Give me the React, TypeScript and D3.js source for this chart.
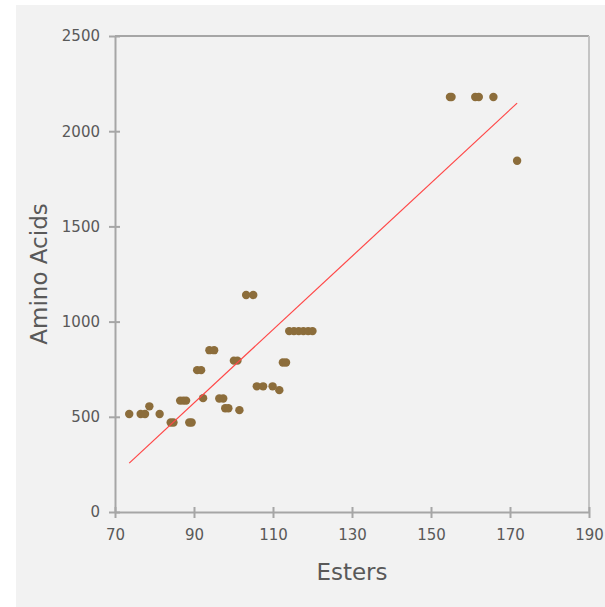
import React, { useRef, useEffect } from "react";
import * as d3 from "d3";

// esters (x) and amino acids (y)
const esters = [
  73.6, 76.5, 77.6, 78.7, 81.3, 84.1, 84.8, 86.5, 87.3, 88.0, 88.8, 89.4,
  90.8, 91.8, 92.3, 93.9, 95.1, 96.4, 97.4, 97.9, 98.7, 100.1, 101.0, 101.5,
  103.2, 105.0, 105.9, 107.5, 109.9, 111.6, 112.5, 113.3, 114.1, 115.3, 116.5,
  117.7, 118.9, 120.0, 154.8, 155.2, 161.2, 162.1, 165.8, 171.8,
];
const aminoAcids = [
  515, 515, 515, 555, 515, 470, 470, 585, 585, 585, 470, 470,
  745, 745, 598, 850, 850, 596, 596, 545, 545, 795, 795, 535,
  1140, 1140, 660, 660, 660, 640, 785, 785, 950, 950, 950,
  950, 950, 950, 2180, 2180, 2180, 2180, 2180, 1845,
];
const xTicks = [70, 90, 110, 130, 150, 170, 190];
const yTicks = [0, 500, 1000, 1500, 2000, 2500];

function ScatterChart() {
  const svgRef = useRef<SVGSVGElement>(null);

  useEffect(() => {
    d3.select(svgRef.current).selectAll("*").remove();
    const width = 605;
    const height = 607;
    const margin = { left: 115, right: 16, top: 36, bottom: 95 };
    const font = "'DejaVu Sans', sans-serif";
    const svg = d3.select(svgRef.current)
      .attr("width", width)
      .attr("height", height);

    // panel background
    svg.append("rect")
      .attr("x", 16).attr("y", 5)
      .attr("width", width - 16).attr("height", height - 5)
      .attr("fill", "#f2f2f2");

    const xScale = d3.scaleLinear()
      .domain([70, 190])
      .range([margin.left, width - margin.right]);
    const yScale = d3.scaleLinear()
      .domain([0, 2500])
      .range([height - margin.bottom, margin.top]);

    const axisColor = "#a6a6a6";
    const textColor = "#595959";
    const x0 = xScale(70), x1 = xScale(190);
    const y0 = yScale(0), y1 = yScale(2500);

    // top and right borders
    svg.append("line")
      .attr("x1", x0).attr("x2", x1).attr("y1", y1).attr("y2", y1)
      .attr("stroke", axisColor).attr("stroke-width", 2);
    svg.append("line")
      .attr("x1", x1).attr("x2", x1).attr("y1", y1).attr("y2", y0)
      .attr("stroke", "#c4c4c4").attr("stroke-width", 2);

    // axes
    const xAxis = d3.axisBottom(xScale)
      .tickValues(xTicks)
      .tickFormat(d3.format("d"))
      .tickSizeInner(6)
      .tickSizeOuter(0)
      .tickPadding(11);
    const yAxis = d3.axisLeft(yScale)
      .tickValues(yTicks)
      .tickFormat(d3.format("d"))
      .tickSizeInner(6)
      .tickSizeOuter(0)
      .tickPadding(9);

    const gx = svg.append("g")
      .attr("transform", `translate(0, ${y0})`)
      .call(xAxis);
    const gy = svg.append("g")
      .attr("transform", `translate(${x0}, 0)`)
      .call(yAxis);

    [gx, gy].forEach((g) => {
      g.select(".domain").attr("stroke", axisColor).attr("stroke-width", 2);
      g.selectAll(".tick line").attr("stroke", axisColor).attr("stroke-width", 2);
      g.selectAll(".tick text")
        .attr("fill", textColor)
        .style("font-family", font)
        .style("font-size", "15px");
    });
    // ticks cross the axis
    gx.selectAll(".tick line").attr("y1", -5);
    gy.selectAll(".tick line").attr("x1", 5);

    // axis titles
    svg.append("text")
      .attr("x", (x0 + x1) / 2)
      .attr("y", 580)
      .attr("text-anchor", "middle")
      .attr("fill", textColor)
      .style("font-family", font)
      .style("font-size", "23px")
      .text("Esters");
    svg.append("text")
      .attr("transform", `translate(47, ${(y0 + y1) / 2}) rotate(-90)`)
      .attr("text-anchor", "middle")
      .attr("fill", textColor)
      .style("font-family", font)
      .style("font-size", "23px")
      .text("Amino Acids");

    const points = esters.map((x, i) => [x, aminoAcids[i]] as [number, number]);

    // linear trend line over the data range
    const mx = d3.mean(esters)!;
    const my = d3.mean(aminoAcids)!;
    const sxy = d3.sum(points, (p) => (p[0] - mx) * (p[1] - my));
    const sxx = d3.sum(points, (p) => (p[0] - mx) ** 2);
    const slope = sxy / sxx;
    const intercept = my - slope * mx;
    const [minX, maxX] = d3.extent(esters) as [number, number];

    svg.selectAll(".dot")
      .data(points)
      .join("circle")
        .attr("class", "dot")
        .attr("cx", (d) => xScale(d[0]))
        .attr("cy", (d) => yScale(d[1]))
        .attr("r", 4.2)
        .attr("fill", "#8c6d3b");

    svg.append("line")
      .attr("x1", xScale(minX))
      .attr("y1", yScale(intercept + slope * minX))
      .attr("x2", xScale(maxX))
      .attr("y2", yScale(intercept + slope * maxX))
      .attr("stroke", "#ff4747")
      .attr("stroke-width", 1.2);
  }, []);

  return <svg ref={svgRef} style={{ display: "block" }}></svg>;
}

export default function App() {
  return (
    <div style={{ position: "absolute", left: 0, top: 0 }}>
      <ScatterChart />
    </div>
  );
}
